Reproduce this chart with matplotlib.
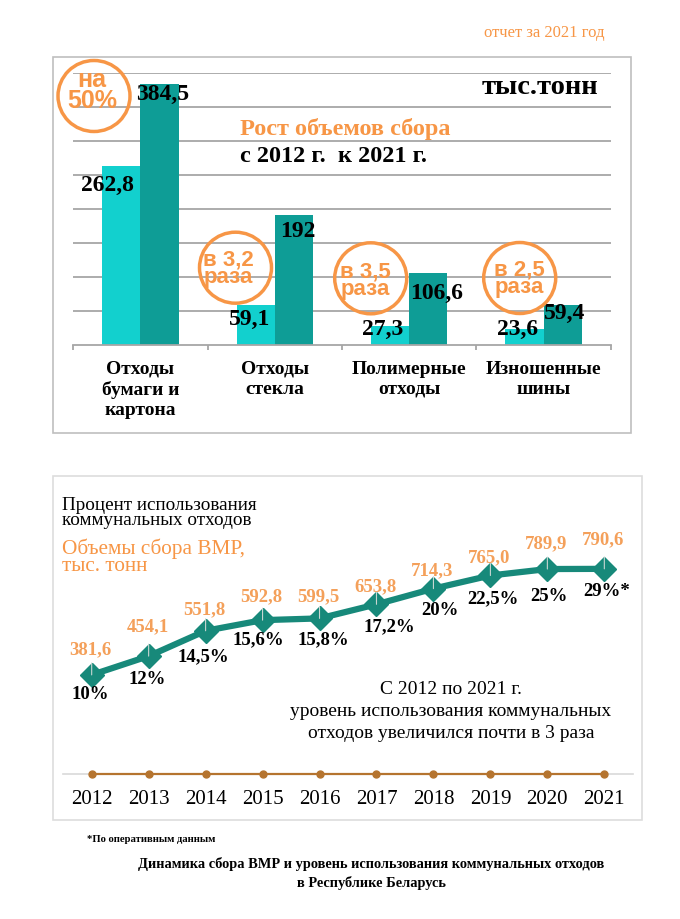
import numpy as np
import matplotlib
matplotlib.use('Agg')
import matplotlib.pyplot as plt
from matplotlib.patches import Ellipse, Rectangle

# --- data: top bar chart (тыс. тонн)
categories = ['Отходы\nбумаги и\nкартона', 'Отходы\nстекла',
              'Полимерные\nотходы', 'Изношенные\nшины']
vol_2012 = [262.8, 59.1, 27.3, 23.6]
vol_2021 = [384.5, 192, 106.6, 59.4]
growth = ['на\n50%', 'в 3,2\nраза', 'в 3,5\nраза', 'в 2,5\nраза']

# --- data: bottom line chart
years = list(range(2012, 2022))
vmr = [381.6, 454.1, 551.8, 592.8, 599.5, 653.8, 714.3, 765.0, 789.9, 790.6]
pct_labels = ['10%', '12%', '14,5%', '15,6%', '15,8%', '17,2%', '20%',
              '22,5%', '25%', '29%*']

SERIF = 'Liberation Serif'
SANS = 'Liberation Sans'
ORANGE = '#F79646'
CYAN = '#12D0CE'
TEAL = '#0E9D96'
LINE_TEAL = '#17897A'
BROWN = '#B5742F'
GRID = '#A6A6A6'

W, H = 680, 919
fig = plt.figure(figsize=(W / 100, H / 100), dpi=100)
fig.patch.set_facecolor('white')


def px_axes(l, t, r, b):
    return fig.add_axes([l / W, 1 - b / H, (r - l) / W, (b - t) / H])


def fmt(v, fixed=False):
    s = f'{v:.1f}' if fixed else f'{v:g}'
    return s.replace('.', ',')


PX = 0.72  # points per pixel at dpi 100

# ---------------- top chart ----------------
ax1 = px_axes(73.3, 73.3, 610.7, 345)
x = np.arange(len(categories))
w = 0.284
ax1.bar(x - w / 2, vol_2012, w, color=CYAN, zorder=2)
ax1.bar(x + w / 2, vol_2021, w, color=TEAL, zorder=2)
ax1.set_xlim(-0.5, 3.5)
ax1.set_ylim(0, 400)
ax1.set_yticks(np.arange(50, 401, 50))
ax1.yaxis.grid(True, color=GRID, lw=1.3)
ax1.set_axisbelow(True)
ax1.tick_params(axis='y', left=False, labelleft=False)
for s in ['top', 'left', 'right']:
    ax1.spines[s].set_visible(False)
ax1.spines['bottom'].set_color(GRID)
ax1.spines['bottom'].set_linewidth(1.3)
ax1.set_xticks(x, categories, fontsize=14, fontweight='bold', family=SERIF,
               linespacing=1.21)
ax1.tick_params(axis='x', which='major', length=0, pad=11.5)
ax1.set_xticks(np.arange(-0.5, 4, 1), minor=True)
ax1.tick_params(axis='x', which='minor', length=3.6, width=1.3, color=GRID)
ax1.patch.set_visible(False)

# value labels: (dx, dy) in pixels, dy downwards from bar top
off_2012 = [(-13.7, 18.5), (-6, 15), (-7, 2.5), (-7, 0)]
off_2021 = [(3.3, 11), (4, 17), (8, 20.7), (2.5, 8.6)]
for i in range(len(categories)):
    for xv, val, (dx, dy) in [(x[i] - w / 2, vol_2012[i], off_2012[i]),
                              (x[i] + w / 2, vol_2021[i], off_2021[i])]:
        ax1.annotate(fmt(val), (xv, val), xytext=(dx * PX, -dy * PX),
                     textcoords='offset points', ha='center', va='center',
                     fontsize=17, fontweight='bold', family=SERIF, zorder=5)

# ---------------- bottom chart ----------------
k = 0.2593  # px per unit
ybot = 773.86
ytop = 480
ax2 = px_axes(63.2, ytop, 632.8, ybot)
ax2.set_xlim(2011.5, 2021.5)
ax2.set_ylim(0, (ybot - ytop) / k)
ax2.plot(years, vmr, color=LINE_TEAL, lw=4.5, marker='D', ms=12,
         solid_joinstyle='miter', zorder=3)
ax2.plot(years, np.zeros(len(years)), color=BROWN, lw=1.6, marker='o',
         ms=5, clip_on=False, zorder=4)
for s in ['top', 'left', 'right']:
    ax2.spines[s].set_visible(False)
ax2.spines['bottom'].set_color('#D9D9D9')
ax2.spines['bottom'].set_linewidth(1.2)
ax2.set_yticks([])
ax2.set_xticks(years, [str(y) for y in years], fontsize=15, family=SERIF)
ax2.tick_params(axis='x', length=0, pad=11.5)
ax2.patch.set_visible(False)

vol_dy = [25, 29, 21, 23, 21.4, 17.6, 17.6, 17.8, 25.7, 28.9]
pct_off = [(-1.7, 20), (-1.7, 23), (-2.6, 26), (-4.6, 20), (3.5, 21.6),
           (12.5, 22.4), (6.5, 22), (2.3, 23.5), (1.6, 27.7), (2.4, 22.8)]
for yr, v, dy, (pdx, pdy), pl in zip(years, vmr, vol_dy, pct_off, pct_labels):
    ax2.annotate('', (yr, v), xytext=(0, 12 * PX), textcoords='offset points',
                 arrowprops=dict(arrowstyle='-', color='#C9D6D2', lw=0.8,
                                 shrinkA=0, shrinkB=0), zorder=5)
    ax2.annotate(fmt(v, True), (yr, v), xytext=(-1 * PX, dy * PX),
                 textcoords='offset points', ha='center', va='center',
                 fontsize=13.5, fontweight='bold', family=SERIF, color='#F4A05A')
    ax2.annotate(pl, (yr, v), xytext=(pdx * PX, -pdy * PX),
                 textcoords='offset points', ha='center', va='center',
                 fontsize=13.5, fontweight='bold', family=SERIF, color='black')

# ---------------- overlay: frames, rings, titles ----------------
ov = fig.add_axes([0, 0, 1, 1], zorder=10)
ov.set_xlim(0, W)
ov.set_ylim(H, 0)
ov.axis('off')
ov.patch.set_visible(False)

ov.add_patch(Rectangle((52.7, 56.5), 630.5 - 52.7, 433.3 - 56.5, fill=False,
                       ec='#BFBFBF', lw=1.2))
ov.add_patch(Rectangle((52.7, 476), 641.5 - 52.7, 820 - 476, fill=False,
                       ec='#DDDDDD', lw=1.2))

ring_xy = [(94, 96), (235.5, 267.7), (370.7, 278.3), (519.7, 278)]
ring_text_xy = [(92, 90.5), (228, 268.5), (365, 280.5), (519, 278.7)]
ring_fs = [18, 16, 16, 16]
ring_ls = [0.88, 0.8, 0.8, 0.8]
for (cx, cy), (tx, ty), fs, ls, t in zip(ring_xy, ring_text_xy, ring_fs,
                                         ring_ls, growth):
    ov.add_patch(Ellipse((cx, cy), 72, 71, fill=False, ec=ORANGE, lw=2.5))
    ov.text(tx, ty, t, ha='center', va='center', multialignment='center',
            linespacing=ls, fontsize=fs, fontweight='bold', family=SANS,
            color=ORANGE)

ov.text(544, 33.3, 'отчет за 2021 год', ha='center', va='center',
        fontsize=12, family=SERIF, color=ORANGE)
ov.text(598.3, 87.5, 'тыс.тонн', ha='right', va='center', fontsize=20.5,
        fontweight='bold', family=SERIF)
ov.text(240, 129, 'Рост объемов сбора', ha='left', va='center', fontsize=17.5,
        fontweight='bold', family=SERIF, color=ORANGE)
ov.text(240, 157, 'с 2012 г.  к 2021 г.', ha='left', va='center', fontsize=17.5,
        fontweight='bold', family=SERIF)

ov.text(61.7, 513, 'Процент использования\nкоммунальных отходов', ha='left',
        va='center', fontsize=13.8, linespacing=0.91, family=SERIF)
ov.text(61.7, 557.3, 'Объемы сбора ВМР,\nтыс. тонн', ha='left', va='center',
        fontsize=15.3, linespacing=0.82, family=SERIF, color=ORANGE)

ov.text(451, 690, 'С 2012 по 2021 г.', ha='center', va='center', fontsize=14,
        family=SERIF)
ov.text(451, 711.5, 'уровень использования коммунальных', ha='center',
        va='center', fontsize=14, family=SERIF)
ov.text(451, 733, 'отходов увеличился почти в 3 раза', ha='center',
        va='center', fontsize=14, family=SERIF)

ov.text(87.3, 839.3, '*По оперативным данным', ha='left', va='center',
        fontsize=7.7, fontweight='bold', family=SERIF)
ov.text(371.5, 864, 'Динамика сбора ВМР и уровень использования коммунальных отходов',
        ha='center', va='center', fontsize=10.4, fontweight='bold', family=SERIF)
ov.text(371.5, 883.3, 'в Республике Беларусь', ha='center', va='center',
        fontsize=10.4, fontweight='bold', family=SERIF)

fig.savefig('out.png', dpi=100)
